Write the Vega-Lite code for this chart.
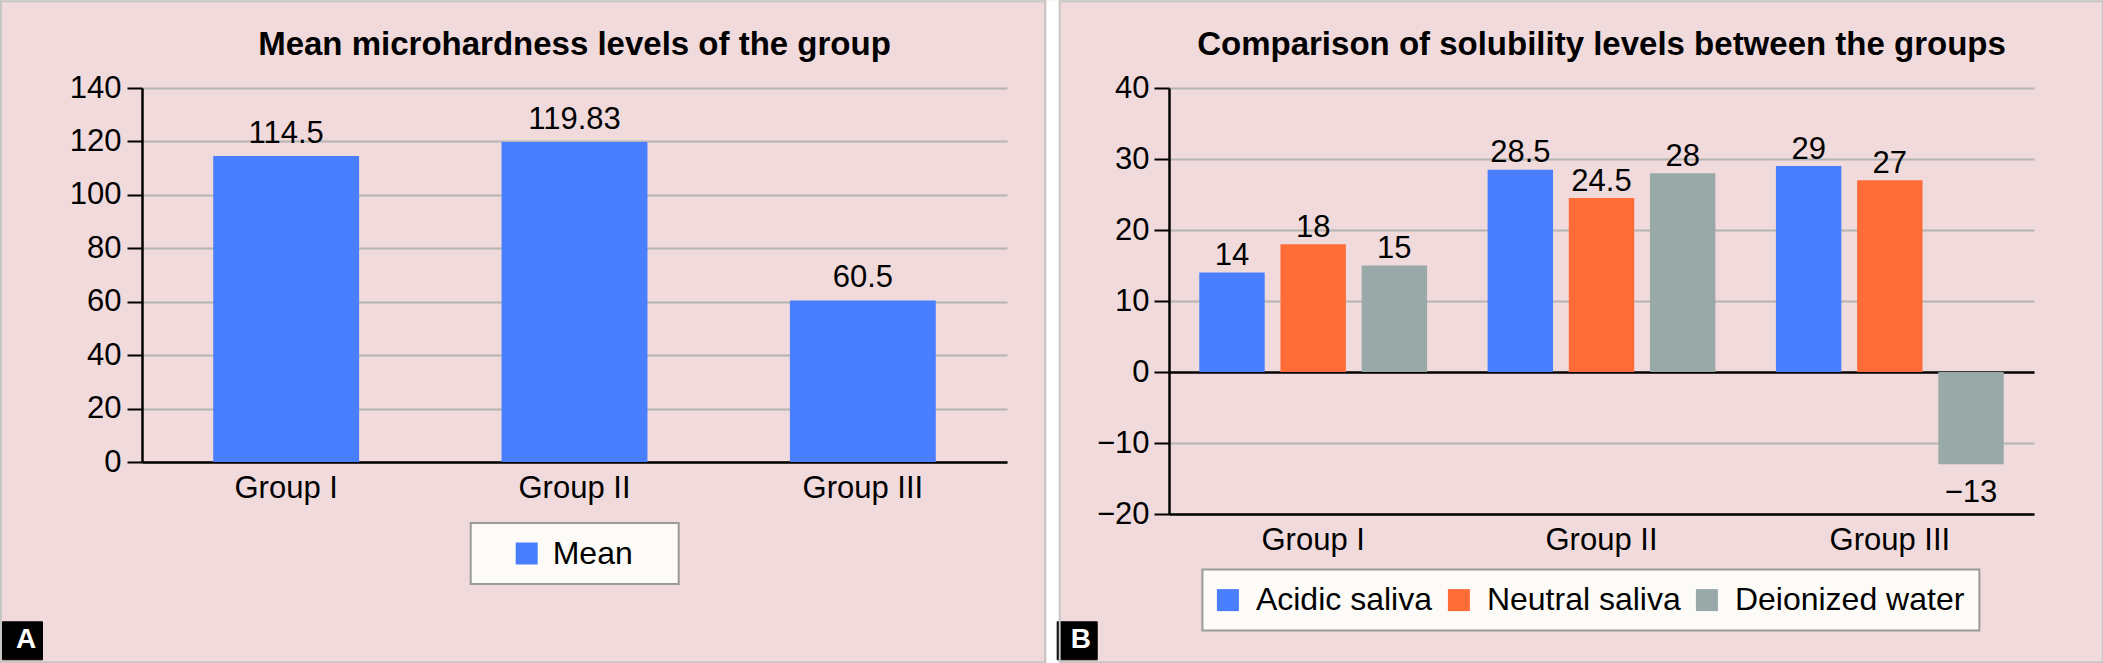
{
  "$schema": "https://vega.github.io/schema/vega-lite/v6.json",
  "background": "#f1dadb",
  "padding": {"left": 0, "top": 0, "right": 0, "bottom": 0},
  "spacing": 0,
  "resolve": {
    "scale": {"color": "independent", "stroke": "independent", "shape": "independent", "fill": "independent", "x": "independent", "y": "independent"},
    "legend": {"color": "independent", "stroke": "independent", "shape": "independent", "fill": "independent"}
  },
  "config": {
    "font": "Liberation Sans",
    "view": {"fill": "white", "stroke": null},
    "axis": {"labelFont": "Liberation Sans", "labelFontSize": 31, "labelColor": "black", "domainColor": "black", "domainWidth": 2.5, "tickColor": "black", "tickWidth": 2, "tickSize": 15, "gridColor": "#b4b4b4", "gridWidth": 2},
    "title": {"font": "Liberation Sans", "fontSize": 33, "fontWeight": "bold", "color": "black", "frame": "group", "anchor": "middle"},
    "legend": {"labelFont": "Liberation Sans", "labelColor": "black", "labelLimit": 600}
  },
  "hconcat": [
    {
      "width": 865,
      "height": 374,
      "title": {"text": "Mean microhardness levels of the group", "offset": -61.7},
      "layer": [
        {
          "data": {"values": [
            {"group": "Group I", "value": 114.5, "series": "Mean"},
            {"group": "Group II", "value": 119.83, "series": "Mean"},
            {"group": "Group III", "value": 60.5, "series": "Mean"}
          ]},
          "mark": {"type": "bar"},
          "encoding": {
            "x": {"field": "group", "type": "nominal", "sort": null, "scale": {"paddingInner": 0.494, "paddingOuter": 0.247}, "axis": {"title": null, "labelAngle": 0, "ticks": false, "grid": false, "labelPadding": 11}},
            "y": {"field": "value", "type": "quantitative", "scale": {"domain": [0, 140], "nice": false}, "axis": {"title": null, "values": [0, 20, 40, 60, 80, 100, 120, 140], "labelPadding": 6, "grid": true}},
            "color": {"field": "series", "type": "nominal", "scale": {"domain": ["Mean"], "range": ["#497eff"]}, "legend": {"orient": "none", "legendX": 328.7, "legendY": 435, "title": "\u2014", "titleOrient": "right", "titleFontSize": 30, "titlePadding": 1, "titleColor": "transparent", "titleOpacity": 0, "symbolType": "square", "symbolSize": 484, "symbolStrokeWidth": 0, "symbolOffset": 25.5, "labelOffset": 10, "labelFontSize": 32, "padding": 14.5, "fillColor": "#fdfbf8", "strokeColor": "#9a9a9a", "encode": {"legend": {"update": {"strokeWidth": {"value": 2}}}}}}
          }
        },
        {
          "data": {"values": [
            {"group": "Group I", "value": 114.5},
            {"group": "Group II", "value": 119.83},
            {"group": "Group III", "value": 60.5}
          ]},
          "mark": {"type": "text", "baseline": "alphabetic", "dy": -13, "fontSize": 31, "font": "Liberation Sans", "fill": "black", "strokeWidth": 0},
          "encoding": {
            "x": {"field": "group", "type": "nominal", "sort": null},
            "y": {"field": "value", "type": "quantitative"},
            "text": {"field": "value", "type": "quantitative"},
            "stroke": {"field": "value", "type": "quantitative", "scale": {"range": ["transparent", "transparent"]}, "legend": {"type": "gradient", "orient": "none", "direction": "vertical", "legendX": -141, "legendY": -86.7, "gradientLength": 661, "gradientThickness": 1044, "labelExpr": "''", "labelOpacity": 0, "labelFontSize": 1, "labelOffset": 0, "title": null, "padding": 0, "gradientStrokeWidth": 0, "strokeColor": "#c6c6c6", "encode": {"legend": {"update": {"strokeWidth": {"value": 2}}}}}}
          }
        },
        {
          "data": {"values": [{"tag": "A"}]},
          "mark": {"type": "point", "opacity": 0},
          "encoding": {
            "shape": {"field": "tag", "type": "nominal", "legend": {"orient": "none", "legendX": -140, "legendY": 533.3, "title": null, "fillColor": "black", "strokeColor": "black", "padding": 5, "symbolSize": 0, "symbolStrokeWidth": 0, "symbolOffset": -19, "labelOffset": 0, "labelFontSize": 28, "labelFontWeight": "bold", "labelColor": "white"}}
          }
        }
      ]
    },
    {
      "width": 865,
      "height": 426,
      "title": {"text": "Comparison of solubility levels between the groups", "offset": -61.7},
      "layer": [
        {
          "data": {"values": [
            {"group": "Group I", "series": "Acidic saliva", "value": 14},
            {"group": "Group I", "series": "Neutral saliva", "value": 18},
            {"group": "Group I", "series": "Deionized water", "value": 15},
            {"group": "Group II", "series": "Acidic saliva", "value": 28.5},
            {"group": "Group II", "series": "Neutral saliva", "value": 24.5},
            {"group": "Group II", "series": "Deionized water", "value": 28},
            {"group": "Group III", "series": "Acidic saliva", "value": 29},
            {"group": "Group III", "series": "Neutral saliva", "value": 27},
            {"group": "Group III", "series": "Deionized water", "value": -13}
          ]},
          "mark": {"type": "bar"},
          "encoding": {
            "x": {"field": "group", "type": "nominal", "sort": null, "scale": {"paddingInner": 0.21, "paddingOuter": 0.105}, "axis": {"title": null, "labelAngle": 0, "ticks": false, "grid": false, "labelPadding": 11.7}},
            "xOffset": {"field": "series", "type": "nominal", "sort": ["Acidic saliva", "Neutral saliva", "Deionized water"], "scale": {"paddingInner": 0.194, "paddingOuter": 0}},
            "y": {"field": "value", "type": "quantitative", "scale": {"domain": [-20, 40], "nice": false}, "axis": {"title": null, "values": [-20, -10, 0, 10, 20, 30, 40], "labelPadding": 5, "grid": true, "gridColor": {"condition": {"test": "datum.value === 0", "value": "black"}, "value": "#b4b4b4"}, "gridWidth": {"condition": {"test": "datum.value === 0", "value": 2.5}, "value": 2}}},
            "color": {"field": "series", "type": "nominal", "sort": ["Acidic saliva", "Neutral saliva", "Deionized water"], "scale": {"domain": ["Acidic saliva", "Neutral saliva", "Deionized water"], "range": ["#497eff", "#ff6c37", "#99a9a8"]}, "legend": {"orient": "none", "legendX": 33.4, "legendY": 481.6, "direction": "horizontal", "title": null, "symbolType": "square", "symbolSize": 484, "symbolStrokeWidth": 0, "symbolOffset": -5, "labelOffset": 12, "columnPadding": 15, "labelFontSize": 32, "padding": 14.5, "fillColor": "#fdfbf8", "strokeColor": "#9a9a9a", "encode": {"legend": {"update": {"strokeWidth": {"value": 2}}}}}}
          }
        },
        {
          "data": {"values": [
            {"group": "Group I", "series": "Acidic saliva", "value": 14},
            {"group": "Group I", "series": "Neutral saliva", "value": 18},
            {"group": "Group I", "series": "Deionized water", "value": 15},
            {"group": "Group II", "series": "Acidic saliva", "value": 28.5},
            {"group": "Group II", "series": "Neutral saliva", "value": 24.5},
            {"group": "Group II", "series": "Deionized water", "value": 28},
            {"group": "Group III", "series": "Acidic saliva", "value": 29},
            {"group": "Group III", "series": "Neutral saliva", "value": 27}
          ]},
          "mark": {"type": "text", "baseline": "alphabetic", "dy": -7.5, "fontSize": 31, "font": "Liberation Sans", "fill": "black", "strokeWidth": 0},
          "encoding": {
            "x": {"field": "group", "type": "nominal", "sort": null},
            "xOffset": {"field": "series", "type": "nominal", "sort": ["Acidic saliva", "Neutral saliva", "Deionized water"]},
            "y": {"field": "value", "type": "quantitative"},
            "text": {"field": "value", "type": "quantitative"},
            "stroke": {"field": "value", "type": "quantitative", "scale": {"range": ["#ffffff", "#ffffff"]}, "legend": {"type": "gradient", "orient": "none", "direction": "vertical", "legendX": -122.3, "legendY": -87.7, "gradientLength": 663, "gradientThickness": 13, "labelExpr": "''", "labelOpacity": 0, "labelFontSize": 1, "labelOffset": 0, "title": null, "padding": 0, "gradientStrokeWidth": 0}}
          }
        },
        {
          "data": {"values": [
            {"group": "Group III", "series": "Deionized water", "value": -13}
          ]},
          "mark": {"type": "text", "baseline": "top", "dy": 13.5, "fontSize": 31, "font": "Liberation Sans", "fill": "black"},
          "encoding": {
            "x": {"field": "group", "type": "nominal", "sort": null},
            "xOffset": {"field": "series", "type": "nominal", "sort": ["Acidic saliva", "Neutral saliva", "Deionized water"]},
            "y": {"field": "value", "type": "quantitative"},
            "text": {"field": "value", "type": "quantitative"}
          }
        },
        {
          "data": {"values": [{"tag": "B", "v": 0}, {"tag": "B", "v": 1}]},
          "mark": {"type": "point", "opacity": 0},
          "encoding": {
            "shape": {"field": "tag", "type": "nominal", "legend": {"orient": "none", "legendX": -112.3, "legendY": 533.3, "title": null, "fillColor": "black", "strokeColor": "black", "padding": 5, "symbolSize": 0, "symbolStrokeWidth": 0, "symbolOffset": -19, "labelOffset": 0, "labelFontSize": 28, "labelFontWeight": "bold", "labelColor": "white"}},
            "fill": {"field": "v", "type": "quantitative", "scale": {"range": ["transparent", "transparent"]}, "legend": {"type": "gradient", "orient": "none", "direction": "vertical", "legendX": -109.3, "legendY": -86.7, "gradientLength": 661, "gradientThickness": 1043, "labelExpr": "''", "labelOpacity": 0, "labelFontSize": 1, "labelOffset": 0, "title": null, "padding": 0, "gradientStrokeWidth": 0, "strokeColor": "#c6c6c6", "encode": {"legend": {"update": {"strokeWidth": {"value": 2}}}}}}
          }
        }
      ]
    }
  ]
}
